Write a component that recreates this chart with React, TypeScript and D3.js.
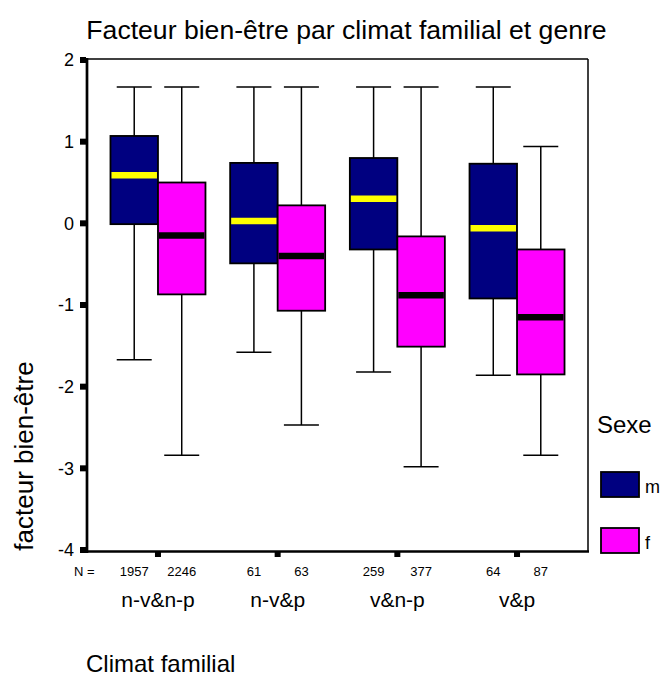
import React from 'react'
import * as d3 from 'd3'

const categories = ['n-v&n-p', 'n-v&p', 'v&n-p', 'v&p']
const genres = ['m', 'f']
const genreColors = ['#000080', '#ff00ff']
const medianColors = ['#ffff00', '#000000']

const countsM = [1957, 61, 259, 64]
const countsF = [2246, 63, 377, 87]

// m : whiskers, quartiles, medians
const lowM = [-1.67, -1.58, -1.82, -1.86]
const q1M = [-0.01, -0.49, -0.32, -0.92]
const medM = [0.59, 0.03, 0.3, -0.06]
const q3M = [1.07, 0.74, 0.8, 0.73]
const highM = [1.67, 1.67, 1.67, 1.67]

// f
const lowF = [-2.84, -2.47, -2.98, -2.84]
const q1F = [-0.87, -1.07, -1.51, -1.85]
const medF = [-0.15, -0.4, -0.88, -1.15]
const q3F = [0.5, 0.22, -0.16, -0.32]
const highF = [1.67, 1.67, 1.67, 0.94]

const yTicks = [2, 1, 0, -1, -2, -3, -4]

const font = '"Liberation Sans", Arial, sans-serif'

export default function App() {
  const left = 87, right = 588, top = 60, bottom = 550

  const x = d3.scaleBand().domain(categories).range([left, right]).paddingOuter(0.093).paddingInner(0)
  const y = d3.scaleLinear().domain([-4, 2]).range([bottom, top])
  const sub = d3.scaleBand().domain(genres).range([-47.5, 47.5])
  const bw = sub.bandwidth()
  const capW = 35

  const series = [
    { low: lowM, q1: q1M, med: medM, q3: q3M, high: highM, n: countsM },
    { low: lowF, q1: q1F, med: medF, q3: q3F, high: highF, n: countsF },
  ]

  const center = (c: string) => (x(c) as number) + x.bandwidth() / 2

  return (
    <svg width={661} height={677} style={{ position: 'absolute', left: 0, top: 0, background: '#fff' }} fontFamily={font}>
      <text x={346.5} y={39} textAnchor="middle" fontSize={26.6}>Facteur bien-être par climat familial et genre</text>

      {/* frame */}
      <line x1={left} x2={right} y1={top - 1} y2={top - 1} stroke="#000" strokeWidth={1.5} />
      <line x1={right} x2={right} y1={top - 1} y2={bottom + 2} stroke="#000" strokeWidth={1.5} />

      {categories.map((c, i) => (
        <g key={c}>
          {series.map((s, j) => {
            const cx = center(c) + (sub(genres[j]) as number) + bw / 2
            const x0 = center(c) + (sub(genres[j]) as number)
            return (
              <g key={j}>
                <line x1={cx} x2={cx} y1={y(s.high[i])} y2={y(s.q3[i])} stroke="#000" strokeWidth={1.5} />
                <line x1={cx} x2={cx} y1={y(s.q1[i])} y2={y(s.low[i])} stroke="#000" strokeWidth={1.5} />
                <line x1={cx - capW / 2} x2={cx + capW / 2} y1={y(s.high[i])} y2={y(s.high[i])} stroke="#000" strokeWidth={1.5} />
                <line x1={cx - capW / 2} x2={cx + capW / 2} y1={y(s.low[i])} y2={y(s.low[i])} stroke="#000" strokeWidth={1.5} />
                <rect x={x0} y={y(s.q3[i])} width={bw} height={y(s.q1[i]) - y(s.q3[i])} fill={genreColors[j]} stroke="#000" strokeWidth={1.8} />
                <line x1={x0 + 1} x2={x0 + bw - 1} y1={y(s.med[i])} y2={y(s.med[i])} stroke={medianColors[j]} strokeWidth={6.5} />
                <text x={cx} y={576} textAnchor="middle" fontSize={13}>{s.n[i]}</text>
              </g>
            )
          })}
          <rect x={center(c) - 3} y={bottom + 2} width={6} height={5} fill="#000" />
          <text x={center(c)} y={607} textAnchor="middle" fontSize={21}>{c}</text>
        </g>
      ))}

      {/* axes */}
      <line x1={left} x2={left} y1={top - 2} y2={bottom + 3} stroke="#000" strokeWidth={2.7} />
      <line x1={left - 1} x2={right + 1} y1={bottom + 1.5} y2={bottom + 1.5} stroke="#000" strokeWidth={2.7} />
      {yTicks.map(t => (
        <g key={t}>
          <rect x={left - 7} y={y(t) - 3} width={6} height={6} fill="#000" />
          <text x={74} y={y(t)} dy="0.35em" textAnchor="end" fontSize={18}>{t}</text>
        </g>
      ))}
      <text x={74} y={576} fontSize={13}>N =</text>

      <text transform="translate(33,456) rotate(-90)" textAnchor="middle" fontSize={26}>facteur bien-être</text>
      <text x={86} y={672} fontSize={24}>Climat familial</text>

      {/* legend */}
      <text x={597} y={433} fontSize={24}>Sexe</text>
      {genres.map((g, j) => (
        <g key={g}>
          <rect x={601} y={472 + j * 56} width={38} height={25} fill={genreColors[j]} stroke="#000" strokeWidth={1.8} />
          <text x={645} y={493 + j * 56} fontSize={18}>{g}</text>
        </g>
      ))}
    </svg>
  )
}
